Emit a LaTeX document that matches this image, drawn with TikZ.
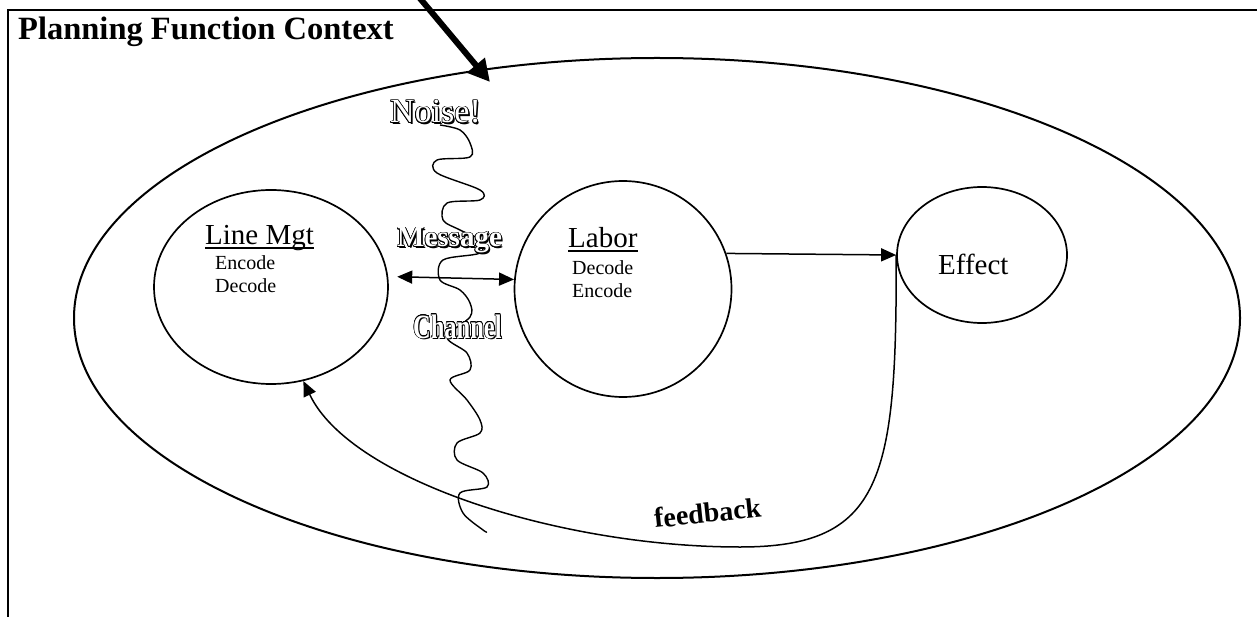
\documentclass[tikz,border=0pt]{standalone}
\usepackage{fontspec}
\setmainfont{Liberation Serif}
\usepackage{contour}
\contourlength{0.7pt}
\usetikzlibrary{arrows.meta,shapes.geometric}

% outlined text with a small shadow
\newcommand{\wordart}[1]{\rlap{\hspace{1.6pt}\raisebox{-1.6pt}{\color{black}#1}}{\color{white}\contour{black}{#1}}}

\tikzset{
  blob/.style={draw, ellipse, line width=1.7pt, inner sep=0pt},
  txt/.style={anchor=base west, inner sep=0pt},
  conn/.style={line width=1.5pt, -{Triangle[length=15pt,width=13pt]}},
  dblconn/.style={line width=1.5pt, {Triangle[length=15pt,width=13pt]}-{Triangle[length=15pt,width=13pt]}},
}

\begin{document}
\begin{tikzpicture}[x=1pt,y=-1pt]
\useasboundingbox (0,0) rectangle (1257,617);

% Drawing frame
\draw [line width=1.8pt] (8,617) -- (8,10) -- (1257,10);
\node [txt] (title) at (18,40) {\fontsize{32.5}{36}\selectfont\bfseries Planning Function Context};

% Drawing context ellipse
\node [blob, line width=2pt, minimum width=1166pt, minimum height=520pt] (context) at (657,318) {};

% Drawing circles
\node [blob, minimum width=234pt, minimum height=194pt] (lmgt) at (271,287) {};
\node [blob, minimum width=217pt, minimum height=216pt] (labor) at (623,289) {};
\node [blob, minimum width=170pt, minimum height=136pt] (effect) at (982,255) {};

% Labels of line management
\node [txt] (lmgttitle) at (205,245) {\fontsize{29}{33}\selectfont Line Mgt};
\draw [line width=1.8pt] ([yshift=-3pt]lmgttitle.base west) -- ([yshift=-3pt]lmgttitle.base east);
\node [txt] (lmgtenc) at (215,270) {\fontsize{20}{24}\selectfont Encode};
\node [txt] (lmgtdec) at (215,293) {\fontsize{20}{24}\selectfont Decode};

% Labels of labor
\node [txt] (labortitle) at (568,248) {\fontsize{29}{33}\selectfont Labor};
\draw [line width=1.8pt] ([yshift=-3pt]labortitle.base west) -- ([yshift=-3pt]labortitle.base east);
\node [txt] (labordec) at (572,275) {\fontsize{20}{24}\selectfont Decode};
\node [txt] (laborenc) at (572,298) {\fontsize{20}{24}\selectfont Encode};

% Label of effect
\node [txt] (effecttext) at (938,275) {\fontsize{29}{33}\selectfont Effect};

% Drawing noise arrow
\coordinate (noisetail) at (418,-4);
\coordinate (noisetip) at (490,82);
\draw [line width=6pt, -{Triangle[length=22pt,width=22pt]}] (noisetail) -- (noisetip);
\node [txt] (noise) at (390,123) {\fontsize{34}{38}\selectfont\wordart{Noise!}};

% Drawing channel
\draw [line width=1.4pt] plot [smooth, tension=0.55] coordinates {
  (440,125) (460,130) (470,143) (470,157) (437,160) (437,173) (480,190)
  (480,200) (447,203) (443,220) (460,230) (480,240) (480,253) (443,260)
  (440,280) (460,290) (470,303) (470,317) (447,337) (467,353) (470,370)
  (450,380) (467,400) (480,420) (480,433) (457,443) (457,460) (483,473)
  (487,487) (460,493) (463,513) (483,530) (487,532)};
\node [txt] (message) at (397,247) {\fontsize{29}{33}\selectfont\bfseries\wordart{Message}};
\node [txt] (channel) at (413,338) {\scalebox{0.72}[1]{\fontsize{34}{38}\selectfont\bfseries\wordart{Channel}}};

% Drawing message arrows
\draw [dblconn] ([xshift=9pt]lmgt.5) -- (labor.175);
\draw [conn] (labor.19) -- (effect.west);

% Drawing feedback
\draw [conn] (effect.west) .. controls (897,480) and (882,547) .. (740,547)
  .. controls (560,547) and (350,480) .. (lmgt.-71);
\node [txt, rotate=6] (feedback) at (655,528) {\fontsize{28}{32}\selectfont\bfseries feedback};

\end{tikzpicture}
\end{document}
